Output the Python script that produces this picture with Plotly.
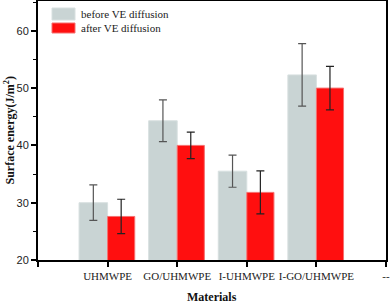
import plotly.graph_objects as go

tick_labels = ["", "UHMWPE", "GO/UHMWPE", "I-UHMWPE", "I-GO/UHMWPE", "--"]
categories = ["UHMWPE", "GO/UHMWPE", "I-UHMWPE", "I-GO/UHMWPE"]
series_names = ["before VE diffusion", "after VE diffusion"]
before_vals = [30.0, 44.3, 35.5, 52.3]
before_err = [3.1, 3.65, 2.8, 5.45]
after_vals = [27.6, 40.0, 31.8, 50.0]
after_err = [3.0, 2.3, 3.75, 3.8]
y_ticks = [20, 30, 40, 50, 60]

xpos = [tick_labels.index(c) for c in categories]
tickpos = list(range(len(tick_labels)))

serif = "Liberation Serif, Times New Roman, serif"
sans = "Liberation Sans, Arial, sans-serif"
colors = ["#c9d4d4", "#ff0f0f"]
edge = ["#d8e0e0", "#f57070"]

fig = go.Figure()
fig.add_trace(go.Bar(
    x=xpos, y=before_vals, name=series_names[0],
    width=0.41, offset=-0.41, showlegend=False,
    marker=dict(color=colors[0], line=dict(color=edge[0], width=1)),
    error_y=dict(type="data", array=before_err, color="#555555", thickness=1.2, width=4),
))
fig.add_trace(go.Bar(
    x=xpos, y=after_vals, name=series_names[1],
    width=0.39, offset=0, showlegend=False,
    marker=dict(color=colors[1], line=dict(color=edge[1], width=1)),
    error_y=dict(type="data", array=after_err, color="#222222", thickness=1.2, width=4),
))

# manual legend (plot area: x 38..386 px, y 1..260 px)
def px(x):
    return (x - 38) / 348
def py(y):
    return (260 - y) / 259

shapes = []
annotations = []
legend_rows = [(8, 20), (23, 33)]
for i, (y0, y1) in enumerate(legend_rows):
    shapes.append(dict(type="rect", xref="paper", yref="paper",
                       x0=px(52), x1=px(75), y0=py(y1), y1=py(y0),
                       fillcolor=colors[i], line=dict(color=edge[i], width=1)))
    annotations.append(dict(text=series_names[i], xref="paper", yref="paper",
                            x=px(79), y=py((y0 + y1) / 2), xanchor="left", yanchor="middle",
                            showarrow=False, font=dict(family=serif, size=11, color="#222")))

annotations += [
    dict(text="<b>Materials</b>", xref="paper", yref="paper", x=0.5, y=py(288),
         xanchor="center", yanchor="top", showarrow=False,
         font=dict(family=serif, size=12, color="#111")),
    dict(text="<b>Surface energy(J/m<sup>2</sup>)</b>", xref="paper", yref="paper",
         x=px(9), y=0.5, xanchor="center", yanchor="middle", textangle=-90,
         showarrow=False, font=dict(family=serif, size=12, color="#111")),
]

fig.update_layout(
    width=392, height=303,
    margin=dict(l=38, r=6, t=1, b=43, autoexpand=False),
    plot_bgcolor="white", paper_bgcolor="white",
    showlegend=False,
    shapes=shapes,
    annotations=annotations,
    xaxis=dict(
        range=[0, 5], tickvals=tickpos, ticktext=tick_labels, automargin=False,
        showline=True, linecolor="black", linewidth=2, mirror=True,
        ticks="outside", ticklen=5, tickcolor="black", tickwidth=1.5,
        tickfont=dict(family=serif, size=11, color="#222"),
        showgrid=False, zeroline=False,
    ),
    yaxis=dict(
        range=[20, 65.2], tickvals=y_ticks, automargin=False,
        showline=True, linecolor="black", linewidth=2, mirror=True,
        ticks="outside", ticklen=5, tickcolor="black", tickwidth=1.5,
        minor=dict(ticks="outside", ticklen=3, tickcolor="black", dtick=5, tickwidth=1),
        tickfont=dict(family=sans, size=11, color="#222"),
        showgrid=False, zeroline=False,
    ),
)

fig.write_html("out.html", config={"displayModeBar": False},
               post_script="document.body.style.margin='0';document.body.style.padding='0';")
